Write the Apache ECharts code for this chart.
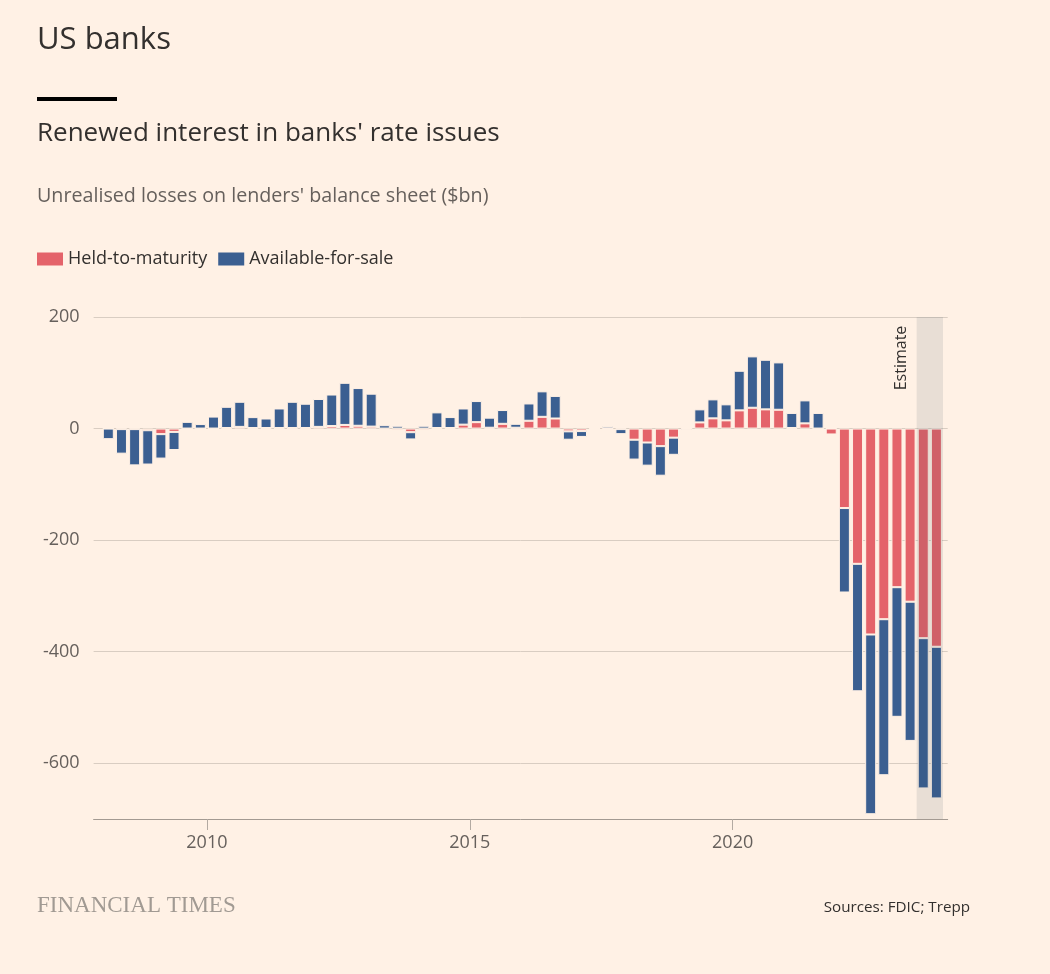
<!DOCTYPE html>
<html><head><meta charset="utf-8">
<script src="https://cdn.jsdelivr.net/npm/echarts@6/dist/echarts.min.js"></script>
<style>html,body{margin:0;padding:0;background:#fff1e5;} #c{width:1050px;height:974px;}</style>
</head><body><div id="c"></div>
<script>
// Quarters (bar categories)
const quarters = [
 '2008Q1','2008Q2','2008Q3','2008Q4','2009Q1','2009Q2','2009Q3','2009Q4',
 '2010Q1','2010Q2','2010Q3','2010Q4','2011Q1','2011Q2','2011Q3','2011Q4',
 '2012Q1','2012Q2','2012Q3','2012Q4','2013Q1','2013Q2','2013Q3','2013Q4',
 '2014Q1','2014Q2','2014Q3','2014Q4','2015Q1','2015Q2','2015Q3','2015Q4',
 '2016Q1','2016Q2','2016Q3','2016Q4','2017Q1','2017Q2','2017Q3','2017Q4',
 '2018Q1','2018Q2','2018Q3','2018Q4','2019Q1','2019Q2','2019Q3','2019Q4',
 '2020Q1','2020Q2','2020Q3','2020Q4','2021Q1','2021Q2','2021Q3','2021Q4',
 '2022Q1','2022Q2','2022Q3','2022Q4','2023Q1','2023Q2','2023Q3','2023Q4'
];
// Held-to-maturity unrealised gains/losses ($bn)
const heldToMaturity = [
 0,-1,-1,-3,-10,-6,0,0,
 0,1,3,1,1,1,1,1,
 3,4.5,6.5,5,3.5,-2,-3,-6.5,
 -3,1,1,7,11.5,1.5,8.5,1.5,
 14,21,18,-5,-4.5,0.5,0.5,-1,
 -20,-25,-31.5,-16.3,0,11,18.3,14.7,
 32.6,37.3,34.4,33.7,1,9.3,0,-10.6,
 -142.5,-242.5,-369.2,-341.8,-284.4,-310.4,-375.8,-391.2
];
// Available-for-sale unrealised gains/losses ($bn)
const availableForSale = [
 -19,-44,-65,-61.5,-43.8,-32.5,12,8,
 21.5,38,45,19.5,17,35,47,43.5,
 50,56.5,75.5,67.6,59,6,5,-13,
 5,28,19.6,29,37.8,18,24.7,7,
 31,45.7,40.5,-15,-10.5,1,4,-9,
 -35.6,-41.5,-53,-30.8,-2.5,23.4,34,28.7,
 71,92.1,88.9,84.9,27,41.2,28,0.5,
 -151.4,-228.5,-322.2,-279.7,-232.4,-249.6,-269.4,-271.9
];
const yTicks = [-600,-400,-200,0,200];
const xTicks = [2010,2015,2020];
const estimatePeriod = ['2023Q3','2023Q4'];

const BG = '#fff1e5';
const RED = '#e4636a';
const BLUE = '#3b5f91';
const TXT = '#33302e';
const SUB = '#66605c';
const FONT = '"Open Sans", "Noto Sans", sans-serif';

// quarter -> position on a continuous year axis (middle of the quarter)
const qMid = q => +q.slice(0,4) + (+q.slice(5) - 0.5) / 4;
const qStart = q => +q.slice(0,4) + (+q.slice(5) - 1) / 4;
const qEnd = q => +q.slice(0,4) + (+q.slice(5)) / 4;

const chart = echarts.init(document.getElementById('c'), null, {renderer:'canvas'});
chart.setOption({
  animation: false,
  backgroundColor: BG,
  textStyle: {fontFamily: FONT},
  grid: {left: 93.6, right: 102.3, top: 317, bottom: 155, containLabel: false},
  legend: {
    data: ['Held-to-maturity','Available-for-sale'],
    left: 37, top: 250, padding: 0, icon: 'rect', itemWidth: 26, itemHeight: 13, itemGap: 11,
    itemStyle: {borderWidth: 0},
    textStyle: {fontSize: 18, color: TXT, fontFamily: FONT}
  },
  xAxis: {
    type: 'value', min: 2007.845, max: 2024.09,
    axisLine: {show: true, onZero: false, lineStyle: {color: '#a39a92', width: 1}},
    axisTick: {show: true, customValues: xTicks, length: 11, lineStyle: {color: '#b3aaa2'}},
    axisLabel: {customValues: xTicks, margin: 15, fontSize: 18, color: SUB, fontFamily: FONT, formatter: v => String(v)},
    splitLine: {show: false}
  },
  yAxis: {
    type: 'value', min: -700, max: 200,
    axisLine: {show: false}, axisTick: {show: false, customValues: yTicks},
    axisLabel: {customValues: yTicks, margin: 14, fontSize: 18, color: SUB, fontFamily: FONT},
    splitLine: {show: true, lineStyle: {color: '#d9cdc2', width: 1}}
  },
  series: [
    {
      name: 'Held-to-maturity', type: 'bar', stack: 'total', barWidth: 11,
      encode: {x: 1, y: 0},
      itemStyle: {color: RED, borderColor: BG, borderWidth: 1},
      data: quarters.map((q,i) => [heldToMaturity[i], qMid(q)])
    },
    {
      name: 'Available-for-sale', type: 'bar', stack: 'total', barWidth: 11,
      encode: {x: 1, y: 0},
      itemStyle: {color: BLUE, borderColor: BG, borderWidth: 1},
      data: quarters.map((q,i) => [availableForSale[i], qMid(q)]),
      markArea: {
        silent: true, z: 10,
        itemStyle: {color: 'rgba(47,74,87,0.11)'},
        data: [[{xAxis: qStart(estimatePeriod[0])}, {xAxis: qEnd(estimatePeriod[1])}]]
      }
    }
  ],
  graphic: [
    {type:'text', x: 37, y: 40, style:{text:'US banks', font:'31px '+FONT, fill: TXT, verticalAlign:'middle'}},
    {type:'rect', shape:{x:37, y:97, width:80, height:4}, style:{fill:'#000'}},
    {type:'text', x: 37, y: 134, style:{text:"Renewed interest in banks' rate issues", font:'26px '+FONT, fill: TXT, verticalAlign:'middle'}},
    {type:'text', x: 37, y: 196, style:{text:"Unrealised losses on lenders' balance sheet ($bn)", font:'19.7px '+FONT, fill: SUB, verticalAlign:'middle'}},
    {type:'text', x: 901, y: 358, rotation: Math.PI/2, style:{text:'Estimate', font:'16px '+FONT, fill: TXT, align:'center', verticalAlign:'middle'}},
    {type:'text', x: 37, y: 906, style:{text:'FINANCIAL TIMES', font:'23px "Liberation Serif", serif', fill:'#a19a93', verticalAlign:'middle'}},
    {type:'text', x: 970, y: 908, style:{text:'Sources: FDIC; Trepp', font:'15.2px '+FONT, fill: TXT, align:'right', verticalAlign:'middle'}}
  ]
});
</script>
</body></html>
